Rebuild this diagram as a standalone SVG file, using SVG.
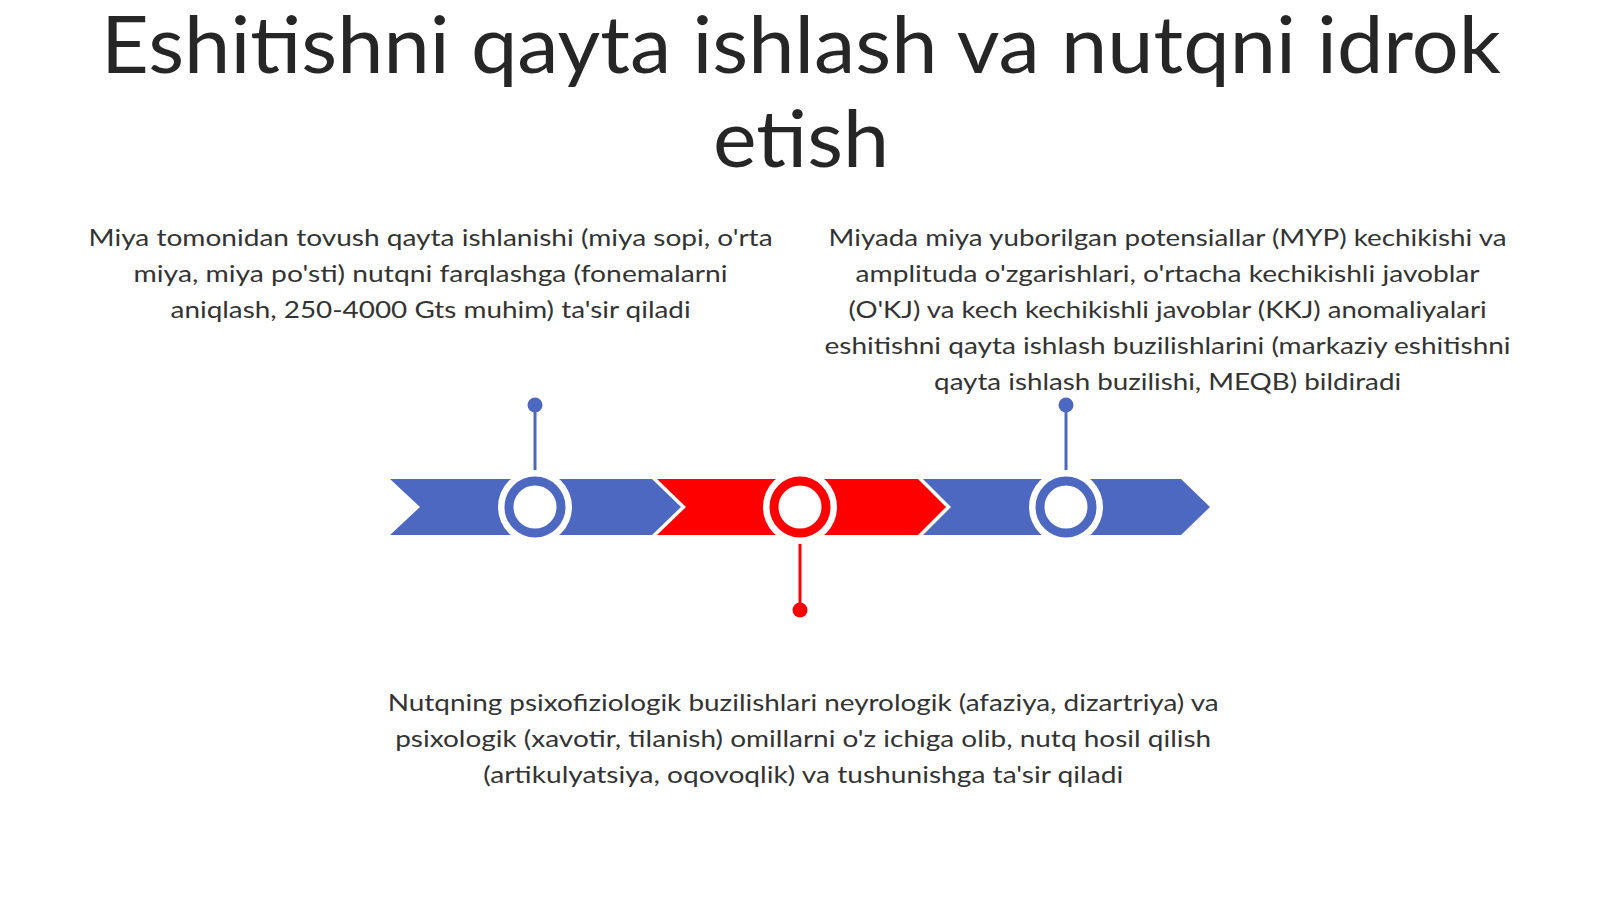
<svg xmlns="http://www.w3.org/2000/svg" width="1600" height="899" viewBox="0 0 1600 899">
<style>
.title{font-family:Lato,"Liberation Sans",sans-serif;font-size:80px;fill:#262626;text-anchor:middle}
.body{font-family:Lato,"Liberation Sans",sans-serif;font-size:24px;fill:#333333;text-anchor:middle}
.blue{fill:#4c68c0}
.red{fill:#ff0000}
.halo{fill:#ffffff}
.ringb{fill:#ffffff;stroke:#4c68c0;stroke-width:9}
.ringr{fill:#ffffff;stroke:#ff0000;stroke-width:9}
.stemb{stroke:#4c68c0;stroke-width:3}
.stemr{stroke:#ff0000;stroke-width:3}
</style>
<rect width="1600" height="899" fill="#ffffff"/>
<g id="title">
<text class="title" x="801" y="73" textLength="1400" lengthAdjust="spacingAndGlyphs">Eshitishni qayta ishlash va nutqni idrok</text>
<text class="title" x="801" y="167" textLength="176" lengthAdjust="spacingAndGlyphs">etish</text>
</g>
<g id="timeline">
<polygon class="blue" points="390,479 652,479 681,507 652,535 390,535 420,507"/>
<polygon class="red" points="657,479 918,479 946,507 918,535 657,535 686,507"/>
<polygon class="blue" points="923,479 1181,479 1210,507 1181,535 923,535 951,507"/>
</g>
<g id="connectors">
<line class="stemb" x1="535" y1="405" x2="535" y2="478"/>
<line class="stemr" x1="800" y1="536" x2="800" y2="610"/>
<line class="stemb" x1="1066" y1="405" x2="1066" y2="478"/>
</g>
<g id="node1">
<circle class="halo" cx="535" cy="507" r="37"/>
<circle class="ringb" cx="535" cy="507" r="26"/>
<circle class="blue" cx="535" cy="405" r="7.5"/>
<text class="body" x="430.6" y="246" textLength="684" lengthAdjust="spacingAndGlyphs">Miya tomonidan tovush qayta ishlanishi (miya sopi, o'rta</text>
<text class="body" x="430.6" y="282" textLength="594" lengthAdjust="spacingAndGlyphs">miya, miya po'sti) nutqni farqlashga (fonemalarni</text>
<text class="body" x="430.6" y="318" textLength="520" lengthAdjust="spacingAndGlyphs">aniqlash, 250-4000 Gts muhim) ta'sir qiladi</text>
</g>
<g id="node2">
<circle class="halo" cx="800" cy="507" r="37"/>
<circle class="ringr" cx="800" cy="507" r="26"/>
<circle class="red" cx="800" cy="610" r="7.5"/>
<text class="body" x="803.2" y="711" textLength="831" lengthAdjust="spacingAndGlyphs">Nutqning psixofiziologik buzilishlari neyrologik (afaziya, dizartriya) va</text>
<text class="body" x="803.2" y="747" textLength="816" lengthAdjust="spacingAndGlyphs">psixologik (xavotir, tilanish) omillarni o'z ichiga olib, nutq hosil qilish</text>
<text class="body" x="803.2" y="783" textLength="640" lengthAdjust="spacingAndGlyphs">(artikulyatsiya, oqovoqlik) va tushunishga ta'sir qiladi</text>
</g>
<g id="node3">
<circle class="halo" cx="1066" cy="507" r="37"/>
<circle class="ringb" cx="1066" cy="507" r="26"/>
<circle class="blue" cx="1066" cy="405" r="7.5"/>
<text class="body" x="1167.6" y="246" textLength="678" lengthAdjust="spacingAndGlyphs">Miyada miya yuborilgan potensiallar (MYP) kechikishi va</text>
<text class="body" x="1167.6" y="282" textLength="624" lengthAdjust="spacingAndGlyphs">amplituda o'zgarishlari, o'rtacha kechikishli javoblar</text>
<text class="body" x="1167.6" y="318" textLength="638" lengthAdjust="spacingAndGlyphs">(O'KJ) va kech kechikishli javoblar (KKJ) anomaliyalari</text>
<text class="body" x="1167.6" y="354" textLength="686" lengthAdjust="spacingAndGlyphs">eshitishni qayta ishlash buzilishlarini (markaziy eshitishni</text>
<text class="body" x="1167.6" y="390" textLength="467" lengthAdjust="spacingAndGlyphs">qayta ishlash buzilishi, MEQB) bildiradi</text>
</g>
</svg>
